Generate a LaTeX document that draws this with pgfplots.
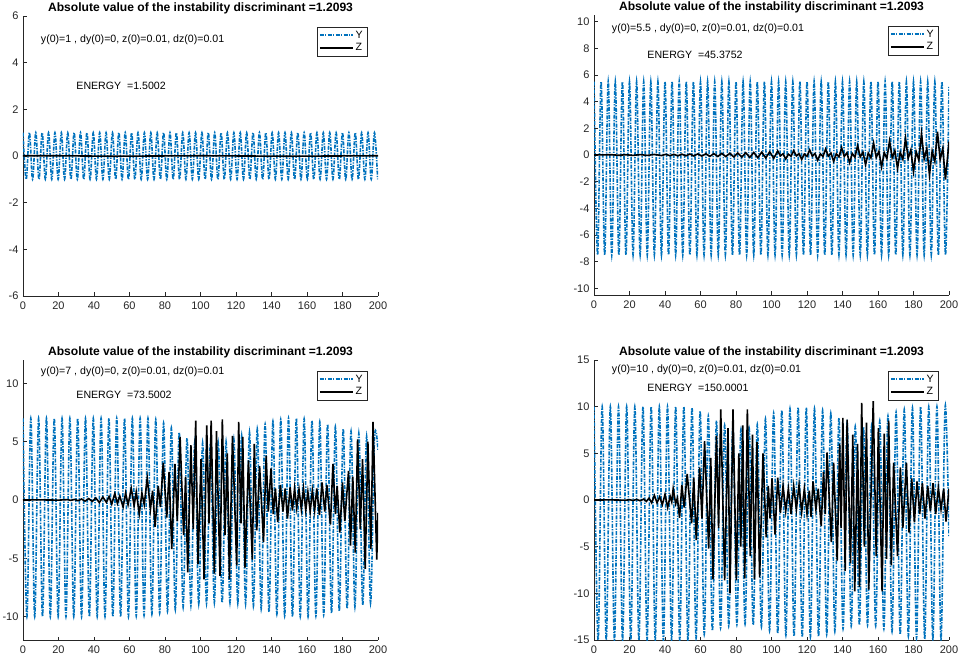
\documentclass[border=0pt]{standalone}
\usepackage{fontspec}
\setmainfont{Liberation Sans}
\usepackage{pgfplots}
\pgfplotsset{compat=1.18}
\definecolor{myblue}{RGB}{0,114,189}
\definecolor{axgray}{RGB}{38,38,38}
\tikzset{ann/.style={anchor=west, inner sep=0pt, font=\fontsize{10.6}{12}\selectfont}}
\pgfplotsset{
  panel/.style={
    scale only axis, width=355pt, height=280pt,
    xmin=0, xmax=200, xtick={0,20,...,200},
    axis x line*=bottom, axis y line*=left,
    axis line style={axgray, line width=0.8pt, -},
    tick align=inside, major tick length=3.5pt,
    tick style={axgray, line width=0.6pt},
    xtick pos=bottom, ytick pos=left,
    /pgf/number format/assume math mode=true,
    tick label style={font=\fontsize{11}{12}\selectfont, color=axgray},
    xticklabel style={yshift=-2.5pt},
    yticklabel style={xshift=-1pt},
    title={Absolute value of the instability discriminant =1.2093},
    title style={font=\bfseries\fontsize{12.1}{13}\selectfont, inner sep=2pt, yshift=-6pt},
    legend style={at={(1,1)}, anchor=north east, xshift=-11pt, yshift=-11pt,
      draw=axgray, line width=0.5pt, font=\fontsize{10.6}{11}\selectfont,
      inner xsep=2pt, inner ysep=1.5pt, row sep=0pt, cells={anchor=west}},
    legend image code/.code={\draw[#1] (0pt,0pt) -- (33pt,0pt);},
  },
  yser/.style={color=myblue, line width=1.6pt, dash pattern=on 4pt off 1.3pt on 1.3pt off 1.3pt, smooth, tension=0.6},
  zser/.style={color=black, line width=1.6pt},
}
\begin{document}
\begin{tikzpicture}
\useasboundingbox (0,0) rectangle (958pt,667pt);
% ---------------- top left
\begin{axis}[panel, at={(23pt,371pt)}, anchor=south west, ymin=-6, ymax=6, ytick={-6,-4,...,6}]
\addplot[yser] coordinates {(0,1)(1.8,-1)(3.6,1)(5.4,-1)(7.2,1)(9,-1)(10.8,1)(12.6,-1)(14.4,1)(16.2,-1)(18,1)(19.8,-1)(21.6,1)(23.4,-1)(25.2,1)(27,-1)(28.8,1)(30.6,-1)(32.4,1)(34.2,-1)(36,1)(37.8,-1)(39.6,1)(41.4,-1)(43.2,1)(45,-1)(46.8,1)(48.6,-1)(50.4,1)(52.2,-1)(54,1)(55.8,-1)(57.6,1)(59.4,-1)(61.2,1)(63,-1)(64.8,1)(66.6,-1)(68.4,1)(70.2,-1)(72,1)(73.8,-1)(75.6,1)(77.4,-1)(79.2,1)(81,-1)(82.8,1)(84.6,-1)(86.4,1)(88.2,-1)(90,1)(91.8,-1)(93.6,1)(95.4,-1)(97.2,1)(99,-1)(100.8,1)(102.6,-1)(104.4,1)(106.2,-1)(108,1)(109.8,-1)(111.6,1)(113.4,-1)(115.2,1)(117,-1)(118.8,1)(120.6,-1)(122.4,1)(124.2,-1)(126,1)(127.8,-1)(129.6,1)(131.4,-1)(133.2,1)(135,-1)(136.8,1)(138.6,-1)(140.4,1)(142.2,-1)(144,1)(145.8,-1)(147.6,1)(149.4,-1)(151.2,1)(153,-1)(154.8,1)(156.6,-1)(158.4,1)(160.2,-1)(162,1)(163.8,-1)(165.6,1)(167.4,-1)(169.2,1)(171,-1)(172.8,1)(174.6,-1)(176.4,1)(178.2,-1)(180,1)(181.8,-1)(183.6,1)(185.4,-1)(187.2,1)(189,-1)(190.8,1)(192.6,-1)(194.4,1)(196.2,-1)(198,1)(199.8,-1)};
\addplot[zser] coordinates {(0,0.01)(20,0.01)(50,-0.01)(100,0.01)(150,-0.01)(200,0.01)};
\legend{Y,Z}
\node[ann] at (axis cs:10,5) {y(0)=1 , dy(0)=0, z(0)=0.01, dz(0)=0.01};
\node[ann] at (axis cs:30,3) {ENERGY\ \ =1.5002};
\end{axis}
% ---------------- top right
\begin{axis}[panel, at={(594pt,372pt)}, anchor=south west, ymin=-10.5, ymax=10.5, ytick={-10,-8,...,10}]
\addplot[yser] coordinates {(0,5.5)(2,-7.5)(4,5.5)(6,-7.5)(8,5.5)(10,-7.5)(12,5.5)(14,-7.5)(16,5.5)(18,-7.5)(20,5.5)(22,-7.5)(24,5.5)(26,-7.5)(28,5.5)(30,-7.5)(32,5.5)(34,-7.5)(36,5.5)(38,-7.5)(40,5.5)(42,-7.5)(44,5.5)(46,-7.5)(48,5.5)(50,-7.5)(52,5.5)(54,-7.5)(56,5.5)(58,-7.5)(60,5.5)(62,-7.5)(64,5.5)(66,-7.5)(68,5.5)(70,-7.5)(72,5.5)(74,-7.5)(76,5.5)(78,-7.5)(80,5.5)(82,-7.5)(84,5.5)(86,-7.5)(88,5.5)(90,-7.5)(92,5.5)(94,-7.5)(96,5.5)(98,-7.5)(100,5.5)(102,-7.5)(104,5.5)(106,-7.5)(108,5.5)(110,-7.5)(112,5.5)(114,-7.5)(116,5.5)(118,-7.5)(120,5.5)(122,-7.5)(124,5.5)(126,-7.5)(128,5.5)(130,-7.5)(132,5.5)(134,-7.5)(136,5.5)(138,-7.5)(140,5.5)(142,-7.5)(144,5.5)(146,-7.5)(148,5.5)(150,-7.5)(152,5.5)(154,-7.5)(156,5.5)(158,-7.5)(160,5.5)(162,-7.5)(164,5.5)(166,-7.5)(168,5.5)(170,-7.5)(172,5.5)(174,-7.5)(176,5.5)(178,-7.5)(180,5.5)(182,-7.5)(184,5.5)(186,-7.5)(188,5.5)(190,-7.5)(192,5.5)(194,-7.5)(196,5.5)(198,-7.5)(200,5.1)};
\addplot[zser] coordinates {(0,0)(10,0.02)(14,-0.02)(18,0.02)(22,-0.03)(26,0.03)(30,-0.03)(34,0.04)(38,-0.04)(40.5,0.05)(42.75,-0.05)(45,0.05)(47.25,-0.06)(49.5,0.06)(51.75,-0.06)(54,0.07)(56.25,-0.07)(58.5,0.08)(60.75,-0.08)(63,0.09)(65.25,-0.1)(67.5,0.1)(69.75,-0.11)(72,0.12)(74.25,-0.12)(76.5,0.13)(78.75,-0.14)(81,0.15)(83.25,-0.16)(85.5,0.17)(87.75,-0.18)(90,0.19)(92.25,-0.2)(94.5,0.21)(96.75,-0.22)(99,0.24)(101.25,-0.25)
(103.5,0.3)(105,-0.06)(106.5,0.09)(108,-0.3)(109.5,0.06)(111,-0.09)
(112.5,0.33)(114,-0.07)(115.5,0.1)(117,-0.33)(118.5,0.07)(120,-0.1)
(121.5,0.38)(123,-0.08)(124.5,0.11)(126,-0.4)(127.5,0.08)(129,-0.11)
(130.5,0.45)(132,-0.09)(133.5,0.14)(135,-0.47)(136.5,0.09)(138,-0.14)
(139.5,0.55)(141,-0.11)(142.5,0.17)(144,-0.58)(145.5,0.11)(147,-0.17)
(148.5,0.7)(150,-0.14)(151.5,0.21)(153,-0.72)(154.5,0.14)(156,-0.21)
(157.5,0.9)(159,-0.18)(160.5,0.27)(162,-0.9)(163.5,0.18)(165,-0.27)
(166.5,1.05)(168,-0.2)(169.5,0.32)(171,-1.0)(172.5,0.2)(174,-0.32)
(175.5,1.25)(177,-0.25)(178.5,0.38)(180,-1.25)(181.5,0.25)(183,-0.38)
(184.5,1.6)(186,-0.3)(187.5,0.48)(189,-1.5)(190.5,0.3)(192,-0.48)
(193.5,1.75)(195,-0.35)(196.5,0.5)(198,-1.85)(200,1.0)};
\legend{Y,Z}
\node[ann] at (axis cs:10,9.5) {y(0)=5.5 , dy(0)=0, z(0)=0.01, dz(0)=0.01};
\node[ann] at (axis cs:30,7.5) {ENERGY\ \ =45.3752};
\end{axis}
% ---------------- bottom left
\begin{axis}[panel, at={(23pt,27pt)}, anchor=south west, ymin=-12, ymax=12, ytick={-10,-5,0,5,10}]
\addplot[yser] coordinates {(0,7)(2.2,-10)(4.4,7)(6.6,-10)(8.8,7)(11,-10)(13.2,7)(15.4,-10)(17.6,7)(19.8,-10)(22,7)(24.2,-10)(26.4,7)(28.6,-10)(30.8,7)(33,-10)(35.2,7)(37.4,-10)(39.6,7)(41.8,-10)(44,7)(46.2,-10)(48.4,7)(50.6,-10)(52.8,7)(55,-10)(57.2,7)(59.4,-10)(61.6,7)(63.8,-9.95)(66,7)(68.2,-9.9)(70.4,7)(72.6,-9.8)(74.8,6.9)(77,-9.7)(79.2,6.6)(81.4,-9.55)(83.6,6.2)(85.8,-9.4)(88,5.8)(90.2,-9.2)(92.4,5.3)(94.6,-9.05)(96.8,5.0)(99,-8.9)(101.2,4.9)(103.4,-8.85)(105.6,4.85)(107.8,-8.8)(110,4.9)(112.2,-8.8)(114.4,5.0)(116.6,-8.8)(118.8,5.2)(121,-8.85)(123.2,5.5)(125.4,-8.9)(127.6,5.8)(129.8,-9.1)(132,6.1)(134.2,-9.35)(136.4,6.5)(138.6,-9.6)(140.8,6.75)(143,-9.8)(145.2,6.9)(147.4,-9.95)(149.6,7.0)(151.8,-10)(154,7.0)(156.2,-10)(158.4,6.95)(160.6,-10)(162.8,6.8)(165,-9.95)(167.2,6.7)(169.4,-9.85)(171.6,6.5)(173.8,-9.7)(176,6.3)(178.2,-9.5)(180.4,6.1)(182.6,-9.3)(184.8,5.9)(187,-9.15)(189.2,5.7)(191.4,-9.0)(193.6,5.45)(195.8,-8.85)(198,5.2)(200,4.2)};
\addplot[zser] coordinates {(0,0)(10,0.01)(20,-0.01)(25,0.03)(27,-0.03)(29,0.05)(31,-0.06)(33,0.08)(35,-0.1)(37,0.12)(39,-0.12)(41,0.18)(43,-0.22)(45,0.25)(47,-0.2)(48.5,0.3)(50,-0.35)(51.7,0.55)(53.2,-0.3)(54.5,0.35)(56.4,-0.6)(57.8,0.6)(59.2,-0.4)(61,1.0)(62.6,-0.5)(63.8,0.7)(65.5,-1.2)(67,0.6)(68.3,-0.4)(70,1.9)(71.8,-0.8)(73,0.8)(74.4,-2.3)(76.2,1.2)(77.4,-0.6)(79,3.2)(81,-1.5)(82.3,2.4)(83.8,-4.2)(85.6,3.1)(86.9,-1.8)(88.5,5.4)(90.5,-3.0)(91.6,2.0)(92.8,-6.2)(94.6,4.7)(95.9,-2.5)(97.3,6.8)(98.6,-5.5)(100.3,3.5)(102,-6.8)(103.5,6.4)(104.8,-2.0)(106,6.8)(107.8,-6.3)(109,5.9)(111,-6.5)(112.3,6.9)(113.8,-3.0)(115.1,4.0)(116.3,-6.8)(118,5.5)(120.4,-5.6)(121.5,6.7)(122.8,-2.0)(123.8,5.4)(125.1,-5.8)(127,3.4)(129.2,-5.1)(130.3,4.8)(131.7,-2.6)(133.3,2.9)(135.5,-3.6)(137,3.8)(138.2,-1.0)(139.7,2.7)(141,-1.2)(142.2,1.0)(143.5,-1.9)(145,1.3)(146.5,-1.0)(147.7,1.0)(149,-1.6)(150.5,1.1)(151.8,-0.9)(153,1.0)(154.2,-0.7)(155.5,0.9)(156.8,-0.8)(158,1.0)(159.3,-0.9)(160.5,0.7)(161.8,-1.0)(163,0.8)(164.3,-0.9)(165.5,1.0)(167,-1.3)(168.5,1.5)(170,-1.0)(171.2,1.3)(173.2,-2.1)(174.6,3.1)(176,-1.2)(177,1.2)(178.5,-2.8)(180,1.5)(181.3,-1.8)(183.4,2.5)(184.5,-3.9)(185.8,2.0)(187.2,-4.5)(188.5,5.2)(190,-2.5)(191.3,3.5)(192.8,-5.9)(194.3,5.0)(196,-4.2)(197.2,6.7)(199.3,-5.1)(200,-1.1)};
\legend{Y,Z}
\node[ann] at (axis cs:10,11) {y(0)=7 , dy(0)=0, z(0)=0.01, dz(0)=0.01};
\node[ann] at (axis cs:30,9) {ENERGY\ \ =73.5002};
\end{axis}
% ---------------- bottom right
\begin{axis}[panel, at={(594pt,27pt)}, anchor=south west, ymin=-15, ymax=15, ytick={-15,-10,...,15}]
\addplot[yser] coordinates {(0,10)(2.3,-15)(4.6,10)(6.9,-15)(9.2,10)(11.5,-15)(13.8,10)(16.1,-15)(18.4,10)(20.7,-15)(23,10)(25.3,-15)(27.6,10)(29.9,-15)(32.2,10)(34.5,-15)(36.8,10)(39.1,-15)(41.4,10)(43.7,-15)(46,10)(48.3,-15)(50.6,10)(52.9,-15)(55.2,9.9)(57.5,-14.8)(59.8,9.5)(62.1,-14.4)(64.4,9.0)(66.7,-14.0)(69,8.5)(71.3,-13.7)(73.6,8.0)(75.9,-13.5)(78.2,7.7)(80.5,-13.35)(82.8,7.6)(85.1,-13.3)(87.4,7.7)(89.7,-13.4)(92,8.1)(94.3,-13.6)(96.6,8.7)(98.9,-14.0)(101.2,9.3)(103.5,-14.3)(105.8,9.6)(108.1,-14.5)(110.4,9.8)(112.7,-14.6)(115,9.9)(117.3,-14.7)(119.6,9.9)(121.9,-14.7)(124.2,9.8)(126.5,-14.6)(128.8,9.6)(131.1,-14.4)(133.4,9.3)(135.7,-14.1)(138,8.8)(140.3,-13.8)(142.6,8.3)(144.9,-13.5)(147.2,7.9)(149.5,-13.4)(151.8,7.8)(154.1,-13.4)(156.4,8.0)(158.7,-13.5)(161,8.5)(163.3,-13.8)(165.6,9.0)(167.9,-14.1)(170.2,9.4)(172.5,-14.4)(174.8,9.7)(177.1,-14.6)(179.4,9.9)(181.7,-14.8)(184,10)(186.3,-14.9)(188.6,10)(190.9,-14.9)(193.2,10)(195.5,-14.9)(197.8,10)(200,-4)};
\addplot[zser] coordinates {(0,0)(10,0.01)(18,-0.02)(20,0.03)(22,-0.05)(24,0.06)(26,-0.08)(28,0.1)(29.5,-0.15)(31,0.2)(32.5,-0.3)(34,0.5)(35.5,-0.3)(37,0.35)(38.5,-0.5)(40,0.6)(41.5,-0.8)(42.9,0.4)(43.8,-0.2)(44.6,1.2)(46,-0.4)(47,0.2)(48.2,-1.9)(49.5,1.6)(50.8,-0.8)(52.5,2.8)(55,-2.5)(56.2,2.4)(57.6,-4.3)(59.5,3.5)(60.8,-2.0)(62.3,6.3)(64.6,-5.2)(65.8,4.5)(67,-8.5)(69,6.9)(70.2,-3.0)(71.4,9.7)(73.6,-8.6)(75.5,7.7)(76.6,-10)(78.3,9.7)(80.2,-8.6)(81.6,5.0)(82.7,-5.0)(83.8,8.0)(84.9,-8.4)(86.4,9.7)(88,-6.0)(89.3,7.0)(90.4,-8.5)(91.8,6.2)(93.3,-8.3)(95.2,5.0)(97,-4.0)(98.2,1.5)(99.2,-2.0)(100.3,2.3)(102,-3.7)(103.5,2.4)(105,-1.4)(106.5,1.5)(108,-1.2)(109.5,1.2)(111,-1.5)(112.5,1.5)(114,-1.0)(115.5,1.6)(117,-1.3)(118.5,1.2)(120,-1.5)(121.3,1.0)(122.3,-1.8)(123.4,2.0)(125,-1.0)(126.3,1.2)(128,-2.8)(129.3,3.0)(130.3,-1.5)(131.3,5.1)(133.7,-4.5)(135,4.0)(137,-6.5)(138.4,6.0)(139.2,-3.0)(140.2,8.8)(141.5,-7.6)(142.6,8.6)(144.5,-6.8)(145.8,7.0)(146.9,-9.8)(148.5,6.0)(149.6,-9.3)(150.8,10.4)(152.3,-5.0)(153.5,8.3)(154.8,-9.6)(157.3,10.6)(159,-6.0)(160.2,7.7)(162.3,-9.8)(163.5,7.1)(164.8,-6.3)(166,8.5)(167.5,-7.0)(168.8,4.0)(171,-6.0)(172.6,3.5)(174,-3.0)(176,4.0)(177.5,-3.5)(179,2.3)(180.5,-2.4)(182,2.0)(183.5,-1.5)(185,1.8)(186.5,-2.0)(188,1.5)(189.5,-1.2)(191,1.8)(192.5,-1.5)(194,1.3)(195.5,-1.0)(197,1.2)(198.3,-2.3)(200,1.2)};
\legend{Y,Z}
\node[ann] at (axis cs:10,14) {y(0)=10 , dy(0)=0, z(0)=0.01, dz(0)=0.01};
\node[ann] at (axis cs:30,12) {ENERGY\ \ =150.0001};
\end{axis}
\end{tikzpicture}
\end{document}
